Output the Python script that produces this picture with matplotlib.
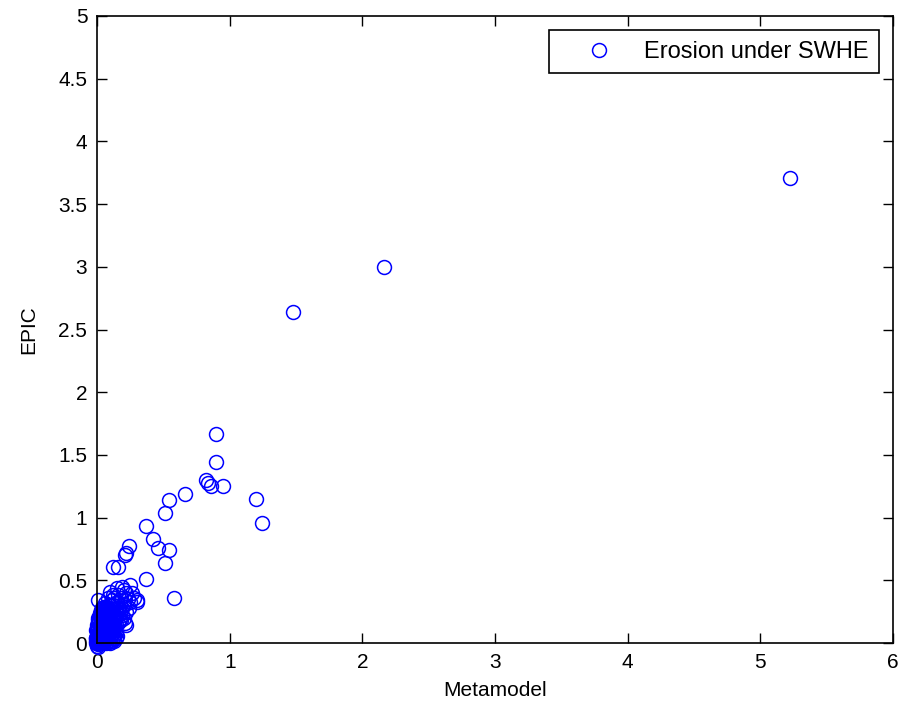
import matplotlib
matplotlib.use("Agg")
import matplotlib.pyplot as plt

# ── data (Metamodel vs EPIC erosion) ────────────────────────────────────────
OUTER_X = [5.22, 2.16, 1.48, 0.894, 0.894, 0.82, 0.84, 0.86, 0.95, 0.66,
           0.54, 0.51, 1.20, 1.24, 0.37, 0.42, 0.46, 0.54, 0.51, 0.24,
           0.22, 0.21, 0.16, 0.12, 0.37, 0.58, 0.01, 0.10, 0.19, 0.25,
           0.30, 0.26, 0.22]
OUTER_Y = [3.71, 3.00, 2.64, 1.664, 1.44, 1.30, 1.28, 1.25, 1.25, 1.19,
           1.14, 1.04, 1.15, 0.96, 0.93, 0.83, 0.755, 0.74, 0.635, 0.77,
           0.715, 0.70, 0.61, 0.61, 0.51, 0.36, 0.34, 0.41, 0.45, 0.46,
           0.34, 0.40, 0.14]

# points around the edge of the dense cluster
CLUSTER_X = [0.0, 0.005, 0.01, 0.0, 0.01, 0.02, 0.02, 0.03, 0.03, 0.04,
             0.04, 0.05, 0.05, 0.06, 0.06, 0.07, 0.07, 0.08, 0.08, 0.09,
             0.09, 0.10, 0.10, 0.11, 0.11, 0.12, 0.12, 0.13, 0.13, 0.14,
             0.14, 0.15, 0.15, 0.16, 0.17, 0.17, 0.18, 0.19, 0.20, 0.21,
             0.22, 0.23, 0.24, 0.02, 0.01, 0.0, 0.0, 0.01, 0.02, 0.03,
             0.04, 0.05, 0.06, 0.07, 0.03, 0.05, 0.06, 0.08, 0.10, 0.12,
             0.14, 0.16, 0.18, 0.20, 0.09, 0.11, 0.13, 0.08, 0.10, 0.04,
             0.02, 0.015, 0.025, 0.035, 0.045, 0.055, 0.065, 0.075, 0.085, 0.095,
             0.105, 0.115, 0.125, 0.135, 0.145, 0.165, 0.175, 0.19, 0.21, 0.25,
             0.28, 0.30, 0.22, 0.20, 0.16, 0.18, 0.15, 0.12, 0.08, 0.06,
             0.04, 0.02, 0.01, -0.01, -0.005, 0.0, 0.01, 0.02, 0.03, 0.015]
CLUSTER_Y = [0.0, 0.01, 0.02, 0.03, 0.05, 0.03, 0.06, 0.04, 0.08, 0.06,
             0.10, 0.08, 0.12, 0.10, 0.14, 0.12, 0.17, 0.14, 0.20, 0.16,
             0.22, 0.18, 0.25, 0.20, 0.27, 0.22, 0.30, 0.24, 0.18, 0.28,
             0.20, 0.25, 0.32, 0.22, 0.30, 0.19, 0.26, 0.22, 0.30, 0.16,
             0.25, 0.35, 0.28, 0.0, -0.01, 0.06, 0.10, 0.12, 0.15, 0.18,
             0.20, 0.22, 0.25, 0.28, 0.12, 0.16, 0.06, 0.08, 0.12, 0.15,
             0.14, 0.16, 0.18, 0.20, 0.30, 0.34, 0.36, 0.10, 0.10, 0.02,
             0.08, 0.04, 0.10, 0.14, 0.17, 0.19, 0.20, 0.22, 0.24, 0.26,
             0.14, 0.16, 0.20, 0.32, 0.24, 0.27, 0.24, 0.28, 0.34, 0.33,
             0.36, 0.33, 0.40, 0.42, 0.38, 0.36, 0.44, 0.38, 0.36, 0.32,
             0.28, 0.22, 0.18, 0.10, 0.04, -0.02, -0.03, 0.0, 0.02, 0.07]

# the solid core of the cluster near the origin (overlapping markers)
CORE_X = [-0.01, 0.01, 0.03, 0.05, 0.07, 0.09, 0.10,
          -0.01, 0.015, 0.035, 0.055, 0.075, 0.095, 0.115, 0.13,
          -0.005, 0.02, 0.04, 0.06, 0.08, 0.10, 0.12, 0.145,
          0.0, 0.02, 0.045, 0.065, 0.085, 0.105, 0.125, 0.15,
          0.005, 0.025, 0.04, 0.06, 0.08, 0.10, 0.12, 0.145,
          0.0, 0.02, 0.045, 0.065, 0.085, 0.11, 0.135,
          0.005, 0.025, 0.04, 0.06, 0.08, 0.10, 0.125,
          0.0, 0.02, 0.04, 0.065, 0.085, 0.105, 0.13,
          0.01, 0.03, 0.05, 0.07, 0.09, 0.115,
          0.015, 0.035, 0.055, 0.075, 0.095, 0.12,
          0.01, 0.03, 0.05, 0.07, 0.09, 0.11,
          0.02, 0.04, 0.06, 0.08, 0.10,
          0.025, 0.045, 0.065, 0.09,
          0.03, 0.05, 0.07, 0.08,
          0.04, 0.055, 0.07]
CORE_Y = [0.00, 0.00, 0.00, 0.01, 0.00, 0.01, 0.00,
          0.02, 0.02, 0.025, 0.02, 0.02, 0.025, 0.02, 0.02,
          0.04, 0.04, 0.045, 0.04, 0.04, 0.045, 0.04, 0.04,
          0.06, 0.065, 0.06, 0.06, 0.065, 0.06, 0.06, 0.06,
          0.08, 0.08, 0.085, 0.08, 0.08, 0.085, 0.08, 0.08,
          0.10, 0.10, 0.105, 0.10, 0.10, 0.10, 0.10,
          0.12, 0.12, 0.125, 0.12, 0.12, 0.125, 0.12,
          0.14, 0.14, 0.145, 0.14, 0.14, 0.14, 0.14,
          0.16, 0.165, 0.16, 0.16, 0.165, 0.16,
          0.18, 0.18, 0.185, 0.18, 0.18, 0.18,
          0.20, 0.205, 0.20, 0.20, 0.205, 0.20,
          0.22, 0.225, 0.22, 0.22, 0.22,
          0.24, 0.245, 0.24, 0.24,
          0.26, 0.265, 0.26, 0.27,
          0.28, 0.285, 0.29]

xs = OUTER_X + CLUSTER_X + CORE_X
ys = OUTER_Y + CLUSTER_Y + CORE_Y

plt.rcParams["font.family"] = ["Liberation Sans", "DejaVu Sans"]

fig = plt.figure(figsize=(9.01, 7.11), dpi=100)
ax = fig.add_axes([0.1077, 0.0956, 0.8834, 0.8819])

ax.plot(xs, ys, linestyle="none", marker="o", markersize=10,
        markerfacecolor="none", markeredgecolor="#0000ff",
        markeredgewidth=1.1, clip_on=False, label="Erosion under SWHE")

ax.set_xlim(0, 6)
ax.set_ylim(0, 5)
ax.set_xticks(range(0, 7))
ax.set_yticks([0, 0.5, 1, 1.5, 2, 2.5, 3, 3.5, 4, 4.5, 5])
ax.set_yticklabels(["0", "0.5", "1", "1.5", "2", "2.5", "3", "3.5", "4", "4.5", "5"])
ax.tick_params(direction="in", top=True, right=True, length=7, width=1,
               labelsize=15, pad=7)
for sp in ax.spines.values():
    sp.set_linewidth(1.2)

ax.set_xlabel("Metamodel", fontsize=15, labelpad=7)
ax.set_ylabel("EPIC", fontsize=15, labelpad=14)

leg = ax.legend(loc="upper right", fontsize=17, fancybox=False,
                framealpha=1, edgecolor="black", borderaxespad=0.6,
                handlelength=3.4, handletextpad=0.17, borderpad=0.45)
leg.get_frame().set_linewidth(1.2)

fig.savefig("out.png", dpi=100)
